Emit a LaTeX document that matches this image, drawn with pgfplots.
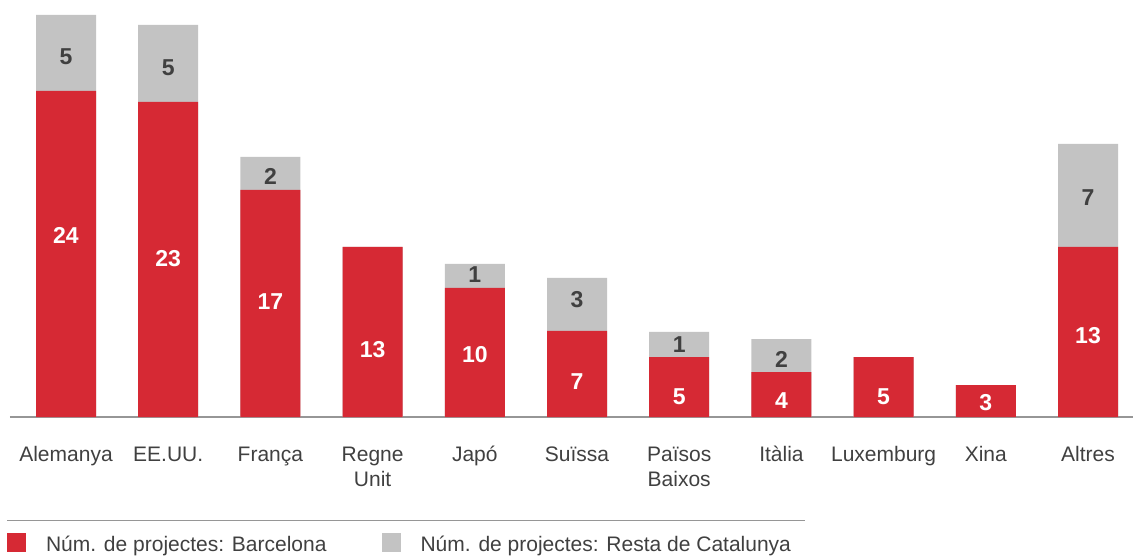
\documentclass[border=0pt]{standalone}
\usepackage{pgfplots}
\pgfplotsset{compat=1.18}
\usepackage{pgfplotstable}
\usepackage{fontspec}
\setmainfont{Liberation Sans}
\definecolor{barred}{RGB}{214,41,52}
\definecolor{bargray}{RGB}{195,195,195}
\definecolor{txt}{RGB}{64,64,64}
\definecolor{axisgray}{RGB}{150,150,150}

% bar heights as drawn (px above baseline)
\pgfplotstableread{
x r g
0 326 76
1 315 77
2 227 33
3 170 0
4 129 24
5 86 53
6 60 25
7 45 33
8 60 0
9 32 0
10 170 103
}\bars

\pgfplotstableread{
x y l
0 182 24
1 158 23
2 115 17
3 67 13
4 62 10
5 35 7
6 20 5
7 16 4
8 20 5
9 14 3
10 81 13
}\redlabels

\pgfplotstableread{
x y l
0 360 5
1 349 5
2 241 2
4 142 1
5 117 3
6 72 1
7 58 2
10 219 7
}\graylabels

\begin{document}
\begin{tikzpicture}
\begin{axis}[
  scale only axis, width=1123pt, height=417pt,
  xmin=-0.548, xmax=10.44, ymin=0, ymax=417,
  axis x line=bottom, axis y line=none,
  x axis line style={draw=axisgray, line width=1.2pt, -},
  xtick={0,...,10}, major tick length=0pt,
  xticklabels={\strut Alemanya, \strut EE.UU., \strut França, \strut Regne\\Unit, \strut Japó, \strut Suïssa, \strut Països\\Baixos, \strut Itàlia, \strut Luxemburg, \strut Xina, \strut Altres},
  xticklabel style={align=center, anchor=north, inner sep=0pt, yshift=-26.5pt, text=txt, font=\fontsize{21}{25}\selectfont},
  ytick=\empty,
  clip=false,
  legend columns=2,
  legend image code/.code={\fill[#1, draw=none] (0pt,-9.5pt) rectangle (19pt,9.5pt);},
  legend style={at={(axis cs:-0.577,-116)}, anchor=north west, draw=none, fill=none,
    inner sep=0pt, outer sep=0pt, font=\fontsize{21}{25}\selectfont, text=txt,
    nodes={inner sep=0pt, text height=17pt, text depth=0pt},
    column sep=0pt,
    /tikz/every odd column/.style={column sep=20pt},
    /tikz/every even column/.style={column sep=55pt},
    cells={anchor=west}},
]
\addplot[ybar, bar width=60pt, bar shift=0pt, fill=bargray, draw=none, forget plot]
  table[x=x, y expr=\thisrow{r}+\thisrow{g}] {\bars};
\addplot[ybar, bar width=60pt, bar shift=0pt, fill=barred, draw=none, forget plot]
  table[x=x, y=r] {\bars};
\addplot[only marks, mark=none, forget plot, nodes near coords, point meta=explicit symbolic,
  every node near coord/.append style={anchor=center, inner sep=0pt, text=white, font=\bfseries\fontsize{23}{27}\selectfont}]
  table[x=x, y=y, meta=l] {\redlabels};
\addplot[only marks, mark=none, forget plot, nodes near coords, point meta=explicit symbolic,
  every node near coord/.append style={anchor=center, inner sep=0pt, text=txt, font=\bfseries\fontsize{23}{27}\selectfont}]
  table[x=x, y=y, meta=l] {\graylabels};
\addlegendimage{fill=barred, draw=none}
\addlegendentry{Núm. de projectes: Barcelona}
\addlegendimage{fill=bargray, draw=none}
\addlegendentry{Núm. de projectes: Resta de Catalunya}
\draw[axisgray, line width=1pt] (axis cs:-0.577,-103) -- (axis cs:7.231,-103);
\coordinate (bbsw) at (axis cs:-0.6458,-142);
\coordinate (bbne) at (axis cs:10.44,417);
\end{axis}
\pgfresetboundingbox
\path[use as bounding box] (bbsw) rectangle (bbne);
\end{tikzpicture}
\end{document}
